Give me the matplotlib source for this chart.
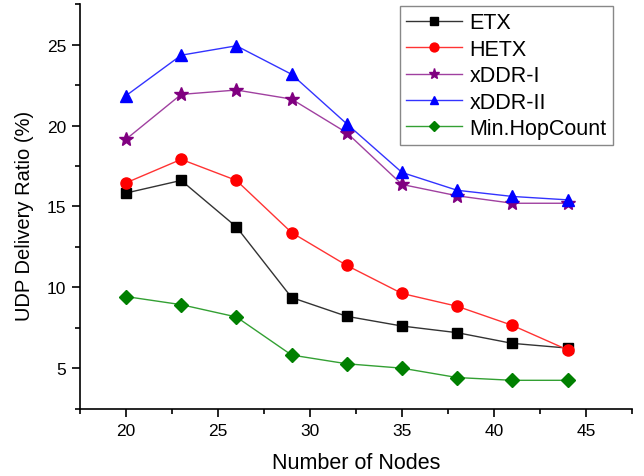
import matplotlib
matplotlib.use("Agg")
import matplotlib.pyplot as plt
from matplotlib.ticker import MultipleLocator

plt.rcParams['font.family'] = ['Liberation Sans', 'DejaVu Sans']

nodes = [20, 23, 26, 29, 32, 35, 38, 41, 44]
etx = [15.83, 16.61, 13.74, 9.38, 8.22, 7.62, 7.21, 6.55, 6.26]
hetx = [16.46, 17.91, 16.61, 13.39, 11.36, 9.63, 8.84, 7.66, 6.15]
xddr1 = [19.15, 21.92, 22.19, 21.63, 19.55, 16.36, 15.66, 15.2, 15.2]
xddr2 = [21.84, 24.34, 24.92, 23.16, 20.1, 17.1, 16.0, 15.62, 15.41]
minhop = [9.44, 8.94, 8.18, 5.83, 5.29, 5.02, 4.44, 4.27, 4.27]

fig = plt.figure(figsize=(6.44, 4.77), dpi=100)
ax = fig.add_axes([0.1242, 0.1405, 0.8572, 0.849])

ax.plot(nodes, etx, color='#333333', lw=1, marker='s', ms=7, mfc='black', mec='black', label='ETX')
ax.plot(nodes, hetx, color='#ff3333', lw=1, marker='o', ms=8, mfc='red', mec='red', label='HETX')
ax.plot(nodes, xddr1, color='#a040a0', lw=1, marker='*', ms=10, mfc='purple', mec='purple', label='xDDR-I')
ax.plot(nodes, xddr2, color='#3333ff', lw=1, marker='^', ms=8, mfc='blue', mec='blue', label='xDDR-II')
ax.plot(nodes, minhop, color='#33a033', lw=1, marker='D', ms=7, mfc='green', mec='green', label='Min.HopCount')

ax.set_xlim(17.5, 47.5)
ax.set_ylim(2.5, 27.5)
ax.xaxis.set_major_locator(MultipleLocator(5))
ax.xaxis.set_minor_locator(MultipleLocator(2.5))
ax.yaxis.set_major_locator(MultipleLocator(5))
ax.yaxis.set_minor_locator(MultipleLocator(2.5))
ax.spines['top'].set_visible(False)
ax.spines['right'].set_visible(False)
ax.spines['left'].set_linewidth(1.2)
ax.spines['bottom'].set_linewidth(1.2)
ax.tick_params(which='major', direction='out', length=6, width=1.2, labelsize=12.5, pad=4)
ax.tick_params(which='minor', direction='out', length=3.5, width=1.2)

ax.set_xlabel('Number of Nodes', fontsize=15.5)
ax.set_ylabel('UDP Delivery Ratio (%)', fontsize=14.5)
ax.xaxis.set_label_coords(0.5, -0.105)
ax.yaxis.set_label_coords(-0.083, 0.478)

leg = ax.legend(loc='upper right', bbox_to_anchor=(0.966, 0.995), fontsize=15.5, fancybox=False,
                edgecolor='#888888', framealpha=1, handlelength=2.6, borderpad=0.3,
                labelspacing=0.25, handletextpad=0.35, borderaxespad=0, markerscale=0.8)
leg.get_frame().set_linewidth(1.0)

fig.savefig('out.png', dpi=100)
